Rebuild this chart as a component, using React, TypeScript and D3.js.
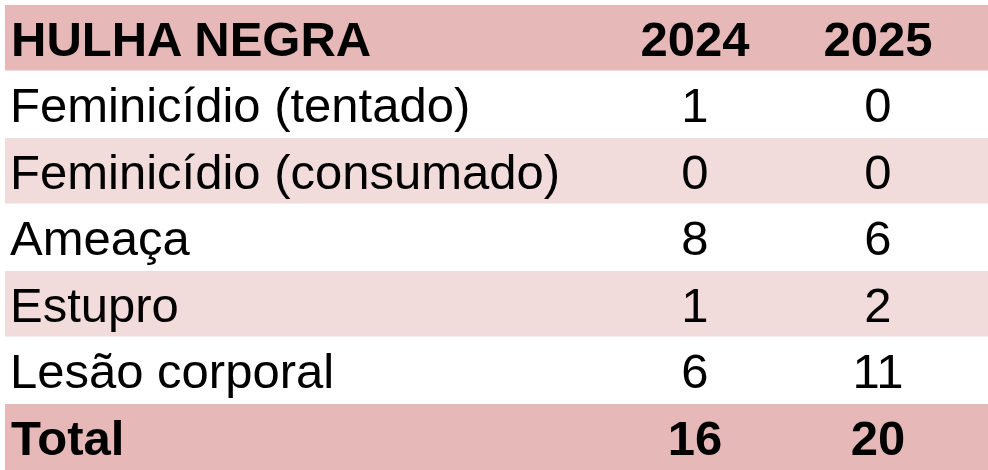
import { scaleBand, scalePoint } from "d3";

const title = "HULHA NEGRA";
const years = ["2024", "2025"];
const categories = [
  "Feminicídio (tentado)",
  "Feminicídio (consumado)",
  "Ameaça",
  "Estupro",
  "Lesão corporal",
];
const values2024 = [1, 0, 8, 1, 6];
const values2025 = [0, 0, 6, 2, 11];
const totalLabel = "Total";
const totals = [16, 20];

const headerFill = "#e6b8b7";
const stripeFill = "#f2dcdb";

export default function App() {
  const width = 988;
  const height = 470;
  const left = 5;
  const top = 5;
  const rowCount = categories.length + 2;
  const fontSize = 49;

  const y = scaleBand<number>()
    .domain(Array.from({ length: rowCount }, (_, i) => i))
    .range([top, top + rowCount * 66.5]);

  const x = scalePoint<string>().domain(years).range([695, 878]);

  const rowH = y.bandwidth();
  const baseline = (i: number) => (y(i) ?? 0) + rowH / 2 + 17.5;

  return (
    <svg
      width={width}
      height={height}
      viewBox={`0 0 ${width} ${height}`}
      style={{ position: "absolute", left: 0, top: 0, display: "block" }}
      fontFamily="'Liberation Sans', Arial, sans-serif"
    >
      <rect width={width} height={height} fill="#ffffff" />

      {/* header */}
      <rect x={left} y={y(0)} width={width - left} height={rowH - 1} fill={headerFill} />
      <text x={11} y={baseline(0)} fontSize={fontSize} fontWeight="bold" fill="#000">
        {title}
      </text>
      {years.map((yr) => (
        <text key={yr} x={x(yr)} y={baseline(0)} fontSize={fontSize} fontWeight="bold" textAnchor="middle">
          {yr}
        </text>
      ))}

      {categories.map((c, i) => {
        const r = i + 1;
        return (
          <g key={c}>
            {r % 2 === 0 ? (
              <rect x={left} y={y(r)} width={width - left} height={rowH - 1} fill={stripeFill} />
            ) : null}
            <text x={10} y={baseline(r)} fontSize={fontSize}>
              {c}
            </text>
            <text x={x(years[0])} y={baseline(r)} fontSize={fontSize} textAnchor="middle">
              {values2024[i]}
            </text>
            <text x={x(years[1])} y={baseline(r)} fontSize={fontSize} textAnchor="middle">
              {values2025[i]}
            </text>
          </g>
        );
      })}

      {/* total */}
      <rect x={left} y={y(rowCount - 1)} width={width - left} height={rowH} fill={headerFill} />
      <text x={11} y={baseline(rowCount - 1)} fontSize={fontSize} fontWeight="bold">
        {totalLabel}
      </text>
      {years.map((yr, i) => (
        <text key={yr} x={x(yr)} y={baseline(rowCount - 1)} fontSize={fontSize} fontWeight="bold" textAnchor="middle">
          {totals[i]}
        </text>
      ))}
    </svg>
  );
}
